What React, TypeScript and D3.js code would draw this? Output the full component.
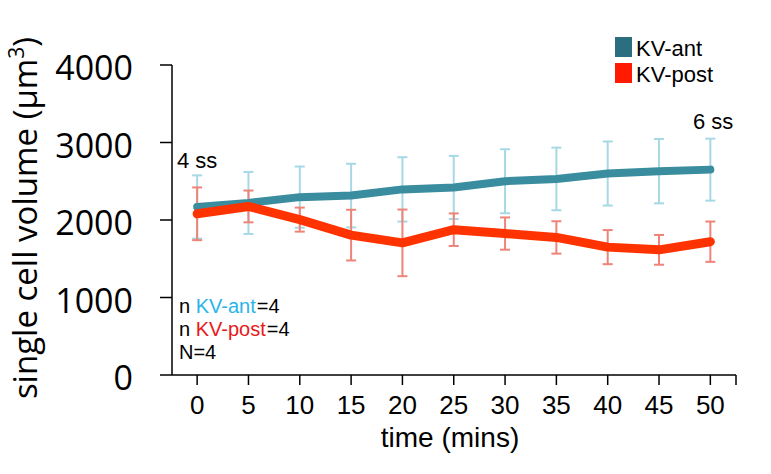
import * as d3 from "d3";

// time points (mins)
const times = [0, 5, 10, 15, 20, 25, 30, 35, 40, 45, 50];
// KV-ant mean volume and error
const antMean = [2168, 2220, 2295, 2315, 2395, 2420, 2500, 2530, 2600, 2630, 2650];
const antErr = [408, 400, 395, 411, 415, 408, 413, 404, 413, 415, 400];
// KV-post mean volume and error
const postMean = [2080, 2175, 2005, 1805, 1705, 1875, 1825, 1775, 1650, 1615, 1720];
const postErr = [340, 205, 155, 327, 430, 210, 208, 209, 220, 192, 260];

const yTicks = [0, 1000, 2000, 3000, 4000];
const xTicks = times;

const width = 771;
const height = 474;

export default function App() {
  const x = d3.scaleLinear().domain([-2.45, 52.5]).range([172, 736]);
  const y = d3.scaleLinear().domain([0, 4000]).range([375, 65]);

  const line = d3
    .line<number>()
    .x((_, i) => x(times[i]))
    .y((d) => y(d));

  const errBars = (mean: number[], err: number[], color: string) => (
    <g stroke={color} strokeWidth={2} fill="none">
      {mean.map((m, i) => {
        const cx = x(times[i]);
        const top = y(m + err[i]);
        const bot = y(m - err[i]);
        return (
          <g key={i}>
            <line x1={cx} x2={cx} y1={top} y2={bot} />
            <line x1={cx - 5} x2={cx + 5} y1={top} y2={top} />
            <line x1={cx - 5} x2={cx + 5} y1={bot} y2={bot} />
          </g>
        );
      })}
    </g>
  );

  const axisLeft = x.range()[0];
  const axisRight = x.range()[1];
  const sans = "'Liberation Sans', Arial, sans-serif";

  return (
    <svg
      width={width}
      height={height}
      style={{ position: "absolute", left: 0, top: 0, background: "#fff" }}
    >
      {/* error bars */}
      {errBars(antMean, antErr, "#a6d8e5")}
      {errBars(postMean, postErr, "#ee8478")}

      {/* lines */}
      <path d={line(antMean) || ""} fill="none" stroke="#3a8d9f" strokeWidth={8} strokeLinecap="round" strokeLinejoin="round" />
      <path d={line(postMean) || ""} fill="none" stroke="#ff3300" strokeWidth={9} strokeLinecap="round" strokeLinejoin="round" />

      {/* y axis */}
      <g stroke="#000" strokeWidth={1.5}>
        <line x1={axisLeft} x2={axisLeft} y1={y(4000)} y2={y(0)} />
        {yTicks.map((t) => (
          <line key={t} x1={axisLeft - 12} x2={axisLeft} y1={y(t)} y2={y(t)} />
        ))}
      </g>
      <g fontFamily="'Open Sans', sans-serif" fontSize={34} textAnchor="end" fill="#000">
        {yTicks.map((t) => (
          <text key={t} x={133} y={y(t) + 15}>
            {t}
          </text>
        ))}
      </g>
      <text
        transform={`translate(37,${218}) rotate(-90)`}
        textAnchor="middle"
        fontFamily="'Open Sans', sans-serif"
        fontSize={33}
        fill="#000"
      >
        single cell volume (µm<tspan dy={-13} fontSize={21}>3</tspan><tspan dy={13}>)</tspan>
      </text>

      {/* x axis */}
      <g stroke="#000" strokeWidth={1.5}>
        <line x1={axisLeft} x2={axisRight} y1={y(0)} y2={y(0)} />
        {xTicks.map((t) => (
          <line key={t} x1={x(t)} x2={x(t)} y1={y(0)} y2={y(0) + 10} />
        ))}
        <line x1={axisRight} x2={axisRight} y1={y(0)} y2={y(0) + 10} />
      </g>
      <g fontFamily={sans} fontSize={26} textAnchor="middle" fill="#000">
        {xTicks.map((t) => (
          <text key={t} x={x(t)} y={414}>
            {t}
          </text>
        ))}
      </g>
      <text x={450} y={447} fontFamily={sans} fontSize={28} textAnchor="middle" fill="#000">
        time (mins)
      </text>

      {/* annotations */}
      <g fontFamily={sans} fontSize={22} fill="#000">
        <text x={177} y={168}>4 ss</text>
        <text x={693} y={129}>6 ss</text>
      </g>
      <g fontFamily={sans} fontSize={20} fill="#000">
        <text x={179} y={313}>n</text>
        <text x={195.7} y={313} fill="#29b5e8">KV-ant</text>
        <text x={256.8} y={313}>=4</text>
        <text x={179} y={336}>n</text>
        <text x={195.7} y={336} fill="#e8191a">KV-post</text>
        <text x={266.8} y={336}>=4</text>
        <text x={179} y={359}>N=4</text>
      </g>

      {/* legend */}
      <g fontFamily={sans} fontSize={22} fill="#000">
        <rect x={615} y={37} width={17} height={20} fill="#2b6e80" />
        <text x={636} y={56}>KV-ant</text>
        <rect x={615} y={63} width={17} height={20} fill="#ff1a00" />
        <text x={636} y={82}>KV-post</text>
      </g>
    </svg>
  );
}
